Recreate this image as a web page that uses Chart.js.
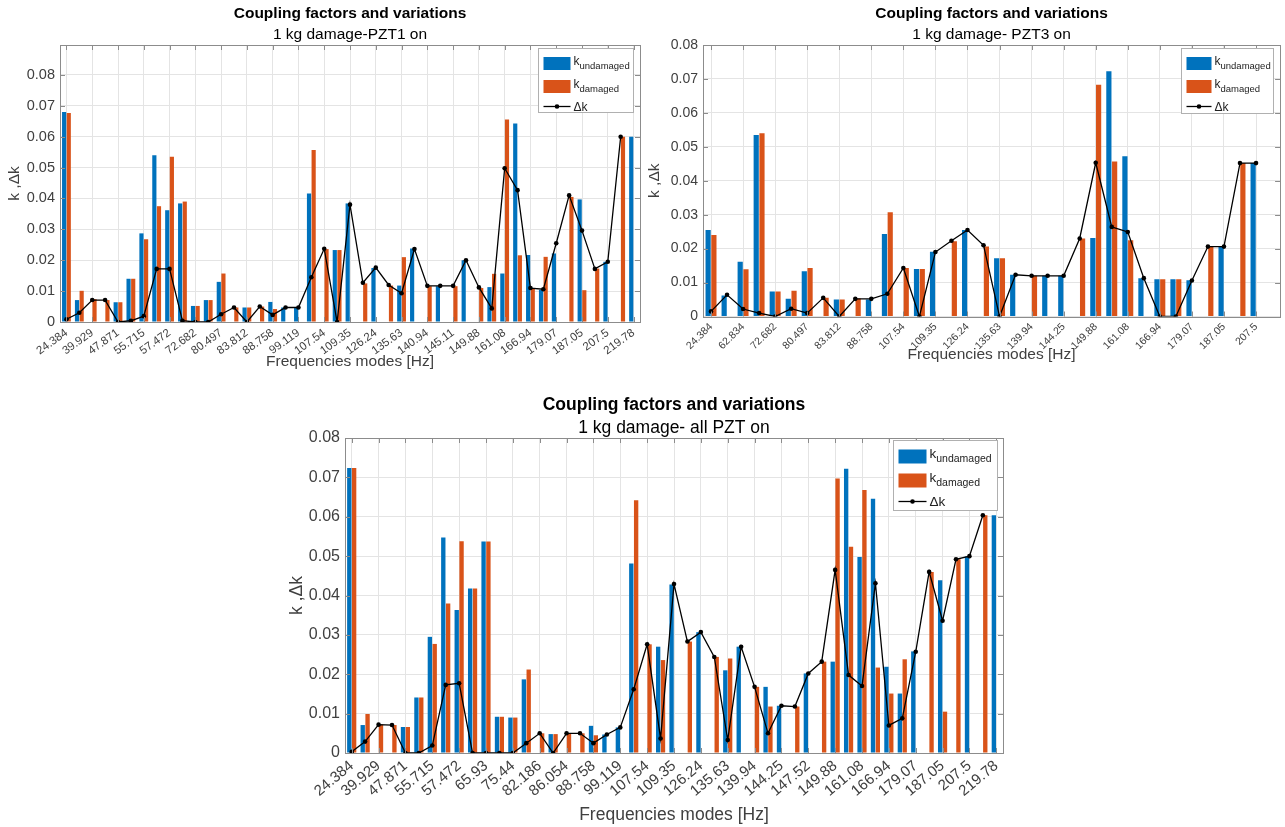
<!DOCTYPE html>
<html>
<head>
<meta charset="utf-8">
<script src="https://cdn.jsdelivr.net/npm/chart.js@4.4.1/dist/chart.umd.min.js"></script>
<style>
  html, body { margin: 0; padding: 0; background: #fff; }
  #wrap { position: relative; width: 1285px; height: 827px; overflow: hidden; }
  #wrap canvas { position: absolute; left: 0; top: 0; }
</style>
</head>
<body>
<div id="wrap">
  <canvas id="c1" width="1285" height="827"></canvas>
  <canvas id="c2" width="1285" height="827"></canvas>
  <canvas id="c3" width="1285" height="827"></canvas>
</div>
<script>
// ---- data: PZT1 on (top left) ----
const ticksA = ["24.384","39.929","47.871","55.715","57.472","72.682","80.497","83.812","88.758","99.119",
  "107.54","109.35","126.24","135.63","140.94","145.11","149.88","161.08","166.94","179.07","187.05","207.5","219.78"];
const undamagedA = [0.068,0.0071,0,0,0.0064,0.014,0.0287,0.054,0.0362,0.0384,0.0052,0.0071,0.013,0,0.0047,0,0.0065,
  0.0047,0.0047,0.0416,0,0.0233,0.0384,0,0.0175,0,0.0118,0.0238,0,0.0116,0,0.02,0,0.0113,0.0157,0.0643,0.0217,0.0104,
  0.0222,0,0.0397,0,0.0195,0,0.06];
const damagedA = [0.0677,0.0101,0.0074,0.0071,0.0064,0.014,0.0268,0.0375,0.0535,0.039,0.0052,0.0071,0.0157,0.0047,
  0.0047,0.005,0.0042,0,0,0.0557,0.0236,0.0233,0,0.0125,0,0.0118,0.021,0,0.0116,0,0.0116,0,0.011,0.0156,0.0656,0.0216,
  0.0107,0.0211,0,0.0405,0.0103,0.0173,0,0.06,0];
const deltaA = [0.0009,0.003,0.0071,0.0071,0,0.0004,0.0019,0.0172,0.0172,0.0004,0,0,0.0025,0.0047,0,0.005,0.0023,
  0.0047,0.0047,0.0145,0.0237,0,0.038,0.0127,0.0176,0.012,0.0093,0.0236,0.0117,0.0117,0.0117,0.02,0.0112,0.0044,
  0.0498,0.0427,0.011,0.0106,0.0255,0.041,0.0296,0.0172,0.0195,0.06,null];

// ---- data: PZT3 on (top right) ----
const ticksB = ["24.384","62.834","72.682","80.497","83.812","88.758","107.54","109.35","126.24","135.63",
  "139.94","144.25","149.88","161.08","166.94","179.07","187.05","207.5"];
const undamagedB = [0.0255,0.0062,0.0161,0.0535,0.0074,0.0052,0.0133,0,0.005,0,0.005,0.0243,0,0.014,0.0191,0,0.0255,
  0,0.0172,0.0123,0,0.012,0.012,0,0.0231,0.0723,0.0472,0.0113,0.011,0.011,0.0107,0,0.0206,0,0.0452,null];
const damagedB = [0.024,0,0.0139,0.054,0.0074,0.0076,0.0143,0.0055,0.005,0.0053,0,0.0307,0.0143,0.014,0,0.0222,0,
  0.0206,0.0172,0,0.012,0,0,0.023,0.0683,0.0457,0.0225,0,0.011,0.011,0,0.0206,0,0.0452,0,null];
const deltaB = [0.0015,0.0064,0.0022,0.001,0,0.0023,0.001,0.0055,0,0.0052,0.0052,0.0067,0.0143,0,0.019,0.0223,0.0255,
  0.021,0,0.0123,0.012,0.012,0.012,0.023,0.0453,0.0264,0.0249,0.0113,0,0,0.0106,0.0206,0.0206,0.0452,0.0452,null];

// ---- data: all PZT on (bottom) ----
const ticksC = ["24.384","39.929","47.871","55.715","57.472","65.93","75.44","82.186","86.054","88.758","99.119",
  "107.54","109.35","126.24","135.63","139.94","144.25","147.52","149.88","161.08","166.94","179.07","187.05","207.5","219.78"];
const undamagedC = [0.0724,0.0071,0,0,0.0066,0.0141,0.0295,0.0547,0.0363,0.0418,0.0537,0.0092,0.009,0.0187,0,0.0048,
  0,0,0.0069,0.0047,0.0065,0.0481,0,0.027,0.0428,0,0.0307,0,0.021,0.027,0,0.0168,0.012,0,0.0202,0,0.0232,0.0722,
  0.0498,0.0646,0.0219,0.0151,0.0258,0,0.0439,0,0.0499,0,0.0604];
const damagedC = [0.0724,0.0099,0.0072,0.0071,0.0066,0.0141,0.0277,0.038,0.0538,0.0418,0.0537,0.0092,0.009,0.0212,
  0.005,0.0048,0.005,0.005,0.0045,0,0,0.0642,0.0276,0.0236,0,0.0283,0,0.0244,0.024,0,0.0168,0.0118,0,0.0118,0,0.0232,
  0.0697,0.0524,0.0668,0.0217,0.0151,0.0238,0,0.046,0.0105,0.0492,0,0.0604,0];
const deltaC = [0.0003,0.0029,0.0072,0.0071,0,0,0.0019,0.0173,0.0177,0,0,0,0,0.0025,0.005,0,0.005,0.005,0.0025,0.0047,
  0.0065,0.0162,0.0276,0.0037,0.0429,0.0283,0.0307,0.0244,0.0033,0.027,0.0168,0.005,0.012,0.0118,0.0202,0.0232,
  0.0465,0.0198,0.017,0.0431,0.007,0.0088,0.0257,0.046,0.0336,0.0492,0.05,0.0604,null];

const FONT = "'Liberation Sans', Arial, Helvetica, sans-serif";
const BLUE = '#0072BD', ORANGE = '#D95319';

// one category per mode, only every other one carries a tick label
function categories(tickLabels, n) {
  const out = [];
  for (let i = 0; i < n; i++) out.push(i % 2 === 0 ? (tickLabels[i / 2] || '') : '');
  return out;
}

// titles, box, inward ticks and the legend with subscripts
const decor = {
  id: 'decor',
  afterDraw(chart, args, o) {
    const { ctx, chartArea: a } = chart;
    const ys = chart.scales.y, xs = chart.scales.x;
    const cx = (a.left + a.right) / 2;
    ctx.save();
    ctx.strokeStyle = '#8c8c8c';
    ctx.lineWidth = 1;
    const seg = (x1, y1, x2, y2) => { ctx.beginPath(); ctx.moveTo(x1, y1); ctx.lineTo(x2, y2); ctx.stroke(); };
    ys.ticks.forEach((t, i) => {
      const y = Math.round(ys.getPixelForTick(i)) + 0.5;
      seg(a.left, y, a.left + 5, y); seg(a.right - 5, y, a.right, y);
    });
    xs.ticks.forEach((t, i) => {
      if (i % 2) return;
      const x = Math.round(xs.getPixelForTick(i)) + 0.5;
      seg(x, a.bottom, x, a.bottom - 5); seg(x, a.top, x, a.top + 5);
    });
    ctx.strokeRect(Math.round(a.left) + 0.5, Math.round(a.top) + 0.5, Math.round(a.right - a.left), Math.round(a.bottom - a.top));

    ctx.textAlign = 'center';
    ctx.textBaseline = 'middle';
    ctx.fillStyle = '#000';
    ctx.font = `bold ${o.lab}px ${FONT}`;
    ctx.fillText('Coupling factors and variations', cx, o.titleY);
    ctx.font = `${o.lab}px ${FONT}`;
    ctx.fillText(o.subtitle, cx, o.subY);
    ctx.fillStyle = '#404040';
    ctx.fillText('Frequencies modes [Hz]', cx, o.xTitleY);
    ctx.save();
    ctx.translate(o.yTitleX, (a.top + a.bottom) / 2);
    ctx.rotate(-Math.PI / 2);
    ctx.fillText('k ,\u0394k', 0, 0);
    ctx.restore();

    // legend
    const L = o.legend;
    const x0 = Math.round(a.right - L.mr - L.w) + 0.5, y0 = Math.round(a.top + L.mt) + 0.5;
    ctx.fillStyle = '#fff';
    ctx.fillRect(x0, y0, L.w, L.h);
    ctx.strokeStyle = '#b0b0b0';
    ctx.strokeRect(x0, y0, L.w, L.h);
    const px = x0 + 5, tx = px + L.pw + 3;
    const rows = L.rows;
    ctx.fillStyle = BLUE;
    ctx.fillRect(px, y0 + rows[0] - L.ph / 2, L.pw, L.ph);
    ctx.fillStyle = ORANGE;
    ctx.fillRect(px, y0 + rows[1] - L.ph / 2, L.pw, L.ph);
    ctx.strokeStyle = '#000';
    ctx.lineWidth = 1.3;
    seg(px, y0 + rows[2], px + L.pw, y0 + rows[2]);
    ctx.fillStyle = '#000';
    ctx.beginPath(); ctx.arc(px + L.pw / 2, y0 + rows[2], 2.3, 0, Math.PI * 2); ctx.fill();
    ctx.textAlign = 'left';
    ctx.textBaseline = 'alphabetic';
    ctx.fillStyle = '#222';
    [['undamaged', rows[0]], ['damaged', rows[1]]].forEach(([s, r]) => {
      ctx.font = `${L.fk}px ${FONT}`;
      ctx.fillText('k', tx, y0 + r + 1);
      const kw = ctx.measureText('k').width;
      ctx.font = `${L.fs}px ${FONT}`;
      ctx.fillText(s, tx + kw, y0 + r + 5);
    });
    ctx.font = `${L.fk}px ${FONT}`;
    ctx.textBaseline = 'middle';
    ctx.fillText('\u0394k', tx, y0 + rows[2] + 1);
    ctx.restore();
  }
};

function makeChart(id, tickLabels, und, dam, dk, g) {
  const n = und.length;
  const [l, t, r, b] = g.area;
  return new Chart(document.getElementById(id), {
    type: 'bar',
    data: {
      labels: categories(tickLabels, n),
      datasets: [
        { type: 'line', label: '\u0394k', data: dk, borderColor: '#000', borderWidth: 1.3,
          pointRadius: 2.3, pointBackgroundColor: '#000', pointBorderWidth: 0, tension: 0, order: 0 },
        { label: 'k undamaged', data: und, backgroundColor: BLUE, categoryPercentage: 0.72, barPercentage: 0.9, order: 2 },
        { label: 'k damaged', data: dam, backgroundColor: ORANGE, categoryPercentage: 0.72, barPercentage: 0.9, order: 2 }
      ]
    },
    options: {
      responsive: false,
      animation: false,
      layout: { autoPadding: false, padding: { left: l - 50, top: t, right: 1285 - r, bottom: 827 - b - 60 } },
      plugins: {
        legend: { display: false },
        tooltip: { enabled: false },
        title: { display: false },
        decor: g
      },
      scales: {
        x: {
          grid: { offset: false, drawTicks: false, color: c => (c.index % 2 === 0 ? '#e4e4e4' : 'rgba(0,0,0,0)') },
          border: { display: false },
          ticks: { autoSkip: false, minRotation: g.rot, maxRotation: g.rot, padding: 4, color: '#404040',
            font: { family: FONT, size: g.xtick } },
          afterFit: s => { s.height = 60; }
        },
        y: {
          min: 0, max: g.ymax,
          grid: { drawTicks: false, color: '#e4e4e4' },
          border: { display: false },
          ticks: { stepSize: 0.01, includeBounds: false, padding: 5, color: '#404040',
            font: { family: FONT, size: g.tick },
            callback: v => (v === 0 ? '0' : v.toFixed(2)) },
          afterFit: s => { s.width = 50; }
        }
      }
    },
    plugins: [decor]
  });
}

makeChart('c1', ticksA, undamagedA, damagedA, deltaA, {
  area: [60, 45, 640, 322], ymax: 0.0897, rot: 36, tick: 14.5, xtick: 11.5, lab: 15.5,
  subtitle: '1 kg damage-PZT1 on', titleY: 14, subY: 35, xTitleY: 362, yTitleX: 15,
  legend: { w: 95, h: 64, mr: 7, mt: 3, pw: 27, ph: 13, rows: [15, 38, 58], fk: 12, fs: 9.5 }
});
makeChart('c2', ticksB, undamagedB, damagedB, deltaB, {
  area: [703, 45, 1282, 316.5], ymax: 0.08, rot: 45, tick: 14, xtick: 10.5, lab: 15.5,
  subtitle: '1 kg damage- PZT3 on', titleY: 14, subY: 35, xTitleY: 355, yTitleX: 655,
  legend: { w: 92, h: 65, mr: 7, mt: 3, pw: 25, ph: 13, rows: [15, 38, 58], fk: 12, fs: 9.5 }
});
makeChart('c3', ticksC, undamagedC, damagedC, deltaC, {
  area: [345, 438, 1003, 753], ymax: 0.08, rot: 40, tick: 16, xtick: 15, lab: 17.5,
  subtitle: '1 kg damage- all PZT on', titleY: 405, subY: 428, xTitleY: 815, yTitleX: 297,
  legend: { w: 104, h: 70, mr: 6, mt: 2, pw: 28, ph: 14, rows: [16, 40, 61], fk: 13.5, fs: 10.5 }
});
</script>
</body>
</html>
